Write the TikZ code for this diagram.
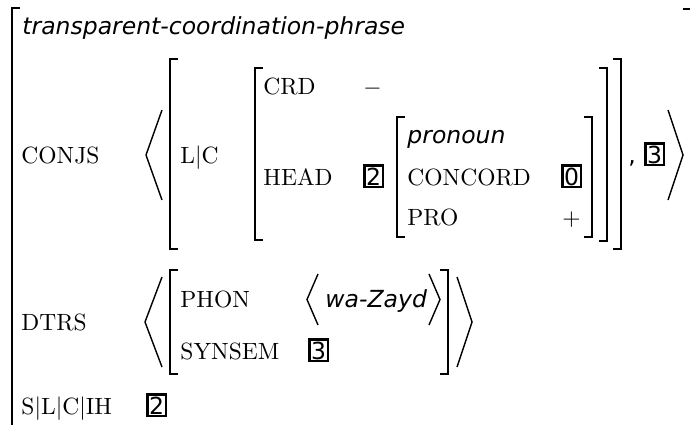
\documentclass[tikz,border=0pt]{standalone}
\usepackage{fontspec}
\newfontfamily\avmsans{DejaVu Sans}
\begin{document}
\begin{tikzpicture}[x=0.4255pt,y=-0.4255pt,
  attr/.style={anchor=base west, inner sep=0pt, font=\rmfamily},
  typ/.style={anchor=base west, inner sep=0pt, font=\avmsans\itshape},
  tagbox/.style={anchor=base west, draw, line width=1.1pt, inner xsep=0.8pt,
    inner ysep=0.8pt, text depth=0pt, font=\avmsans},
  brk/.style={line width=0.8pt},
  ang/.style={line width=0.6pt, line join=miter}]
\clip (0,0) rectangle (690,424);

% square brackets: left x, top y, bottom y
\newcommand\avmL[3]{\draw[brk] ({#1+8},#2) -- (#1,#2) -- (#1,#3) -- ({#1+8},#3);}
\newcommand\avmR[3]{\draw[brk] ({#1-8},#2) -- (#1,#2) -- (#1,#3) -- ({#1-8},#3);}
% angle brackets: tip x, outer x, top y, bottom y
\newcommand\avmAng[4]{\draw[ang] (#2,#3) -- (#1,{(#3+#4)/2}) -- (#2,#4);}

% outermost structure
\avmL{12}{8}{440}
\avmR{691}{9}{440}
\node[typ] (type) at (22,35) {transparent-coordination-phrase};

% CONJS
\node[attr] (conjs) at (21,163) {CONJS};
\avmAng{146}{162}{110}{200}
\avmAng{683}{668}{110}{200}
\avmL{170}{59}{249}
\avmR{621}{59}{249}
\node[attr] (lc) at (180,163) {L$|$C};
\avmL{255}{68}{240}
\avmR{607}{68}{241}
\node[attr] (crd) at (263,94) {CRD};
\node[attr] (crdv) at (363,94) {$-$};
\node[attr] (head) at (263,185) {HEAD};
\node[tagbox] (t2a) at (363,185) {2};
\avmL{397}{117}{237}
\avmR{592}{117}{237}
\node[typ] (pron) at (407,143) {pronoun};
\node[attr] (concord) at (407,185) {CONCORD};
\node[tagbox] (t0) at (561,185) {0};
\node[attr] (pro) at (407,225) {PRO};
\node[attr] (prov) at (562,225) {$+$};
\node[anchor=base west, inner sep=0pt, font=\avmsans] (comma) at (628,163) {,};
\node[tagbox] (t3a) at (644,163) {3};

% DTRS
\node[attr] (dtrs) at (21,330) {DTRS};
\avmAng{145}{162}{277}{367}
\avmAng{472}{457}{277}{367}
\avmL{170}{270}{374}
\avmR{448}{270}{374}
\node[attr] (phon) at (180,307) {PHON};
\avmAng{307}{318}{274}{325}
\node[typ] (word) at (325,307) {wa-Zayd};
\avmAng{440}{429}{274}{325}
\node[attr] (synsem) at (180,359) {SYNSEM};
\node[tagbox] (t3b) at (308,359) {3};

% S|L|C|IH
\node[attr] (slcih) at (21,414) {S$|$L$|$C$|$IH};
\node[tagbox] (t2b) at (146,414) {2};
\end{tikzpicture}
\end{document}
